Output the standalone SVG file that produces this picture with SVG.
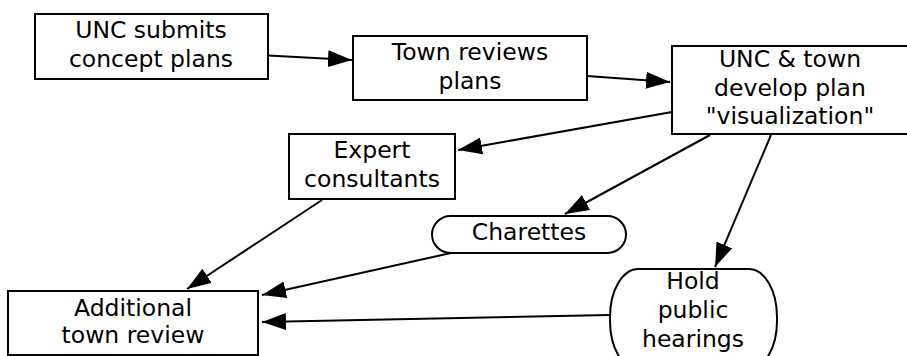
<svg xmlns="http://www.w3.org/2000/svg" width="907" height="356" viewBox="0 0 907 356">
<defs>
<marker id="ah" markerUnits="userSpaceOnUse" markerWidth="24" markerHeight="17" refX="24" refY="8.5" orient="auto">
<path d="M0,0 L24,8.5 L0,17 z" fill="#000"/>
</marker>
<style>
.n{fill:#fff;stroke:#000;stroke-width:2}
.t{font-family:"DejaVu Sans",Verdana,sans-serif;font-size:23.5px;fill:#000;text-anchor:middle}
.c{stroke:#000;stroke-width:2;fill:none;marker-end:url(#ah)}
</style>
</defs>
<rect width="907" height="356" fill="#fff"/>
<g id="connectors">
<line class="c" x1="268" y1="55.5" x2="352" y2="60"/>
<line class="c" x1="587" y1="76" x2="670" y2="82"/>
<line class="c" x1="672" y1="112" x2="458" y2="150"/>
<line class="c" x1="710" y1="135" x2="565" y2="214"/>
<line class="c" x1="771" y1="135" x2="715" y2="267"/>
<line class="c" x1="322" y1="200" x2="187" y2="289"/>
<line class="c" x1="451" y1="253" x2="262" y2="295"/>
<line class="c" x1="610" y1="315" x2="262" y2="322"/>
</g>
<g id="n1">
<rect class="n" x="35" y="14" width="233" height="65"/>
<text class="t" x="151" y="38">UNC submits</text>
<text class="t" x="151" y="67">concept plans</text>
</g>
<g id="n2">
<rect class="n" x="353" y="36" width="234" height="64"/>
<text class="t" x="470" y="60">Town reviews</text>
<text class="t" x="470" y="89">plans</text>
</g>
<g id="n3">
<rect class="n" x="672" y="46" width="238" height="88"/>
<text class="t" x="790" y="67">UNC &amp; town</text>
<text class="t" x="790" y="96">develop plan</text>
<text class="t" x="790" y="124">"visualization"</text>
</g>
<g id="n4">
<rect class="n" x="289" y="134" width="166" height="65"/>
<text class="t" x="372" y="158">Expert</text>
<text class="t" x="372" y="187">consultants</text>
</g>
<g id="n5">
<rect class="n" x="8" y="291" width="250" height="64"/>
<text class="t" x="133" y="316">Additional</text>
<text class="t" x="133" y="343">town review</text>
</g>
<g id="n6">
<rect class="n" x="432" y="216" width="194" height="37" rx="18.5" ry="18.5"/>
<text class="t" x="529" y="240">Charettes</text>
</g>
<g id="n7">
<rect class="n" x="610" y="269" width="167" height="100" rx="28" ry="48"/>
<text class="t" x="693" y="289">Hold</text>
<text class="t" x="693" y="318">public</text>
<text class="t" x="693" y="347">hearings</text>
</g>
</svg>
